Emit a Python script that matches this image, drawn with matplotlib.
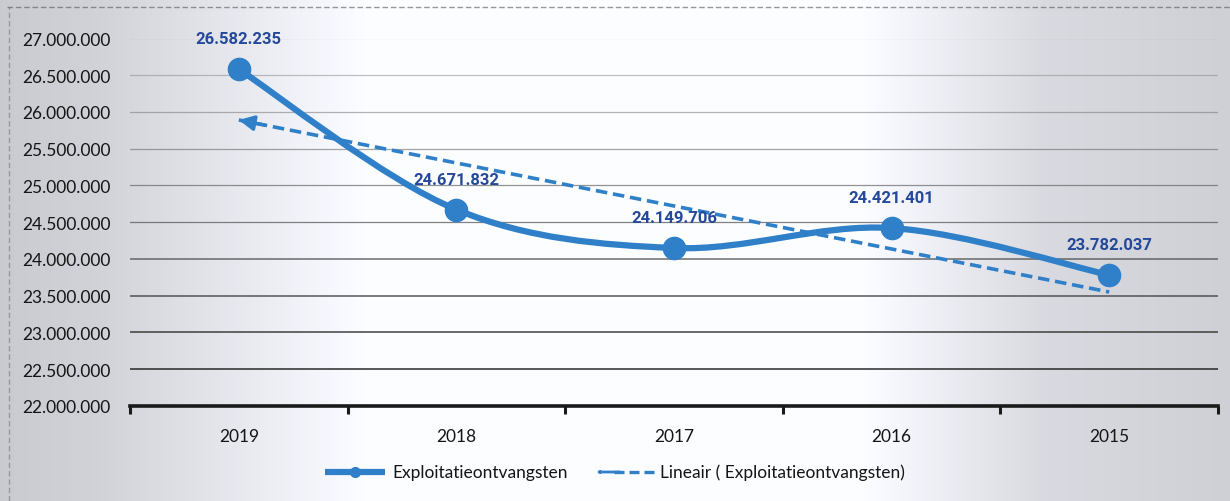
import numpy as np
import matplotlib
matplotlib.use("Agg")
import matplotlib.pyplot as plt
from matplotlib.lines import Line2D
from matplotlib.path import Path
from matplotlib.patches import PathPatch, FancyArrowPatch

plt.rcParams['font.family'] = ['Lato', 'DejaVu Sans']

years = ['2019', '2018', '2017', '2016', '2015']
values = [26582235, 24671832, 24149706, 24421401, 23782037]
value_labels = ['26.582.235', '24.671.832', '24.149.706', '24.421.401', '23.782.037']
yticks = [22000000, 22500000, 23000000, 23500000, 24000000, 24500000,
          25000000, 25500000, 26000000, 26500000, 27000000]
series_name = 'Exploitatieontvangsten'
trend_name = 'Lineair ( Exploitatieontvangsten)'

LINE = '#2F80C8'
LABEL = '#24499A'
TXT = '#151515'

W, H = 1230, 502
fig = plt.figure(figsize=(W / 100, H / 100), dpi=100)

# scanned-paper like background gradient
bg = fig.add_axes([0, 0, 1, 1], zorder=-10)
xs = np.linspace(0, 1, 400)
prof = np.interp(xs, [0, 0.08, 0.3, 0.7, 0.85, 1.0], [0.80, 0.83, 1.0, 1.0, 0.86, 0.82])
img = np.zeros((2, len(xs), 3))
img[..., 0] = prof[None, :] * 0.99
img[..., 1] = prof[None, :] * 0.995
img[..., 2] = np.minimum(prof[None, :] + 0.02, 1.0)
bg.imshow(img, aspect='auto', extent=[0, 1, 0, 1], interpolation='bilinear')
bg.set_xlim(0, 1); bg.set_ylim(0, 1)
bg.axis('off')
bg.plot([0.006, 1], [0.985, 0.985], ls=(0, (4, 2)), color='#555555', lw=1.0, alpha=0.6)
bg.plot([0.007, 0.007], [0.0, 0.985], ls=(0, (4, 2)), color='#666666', lw=1.0, alpha=0.5)

ax = fig.add_axes([130 / W, 1 - 407 / H, (1218 - 130) / W, (407 - 39.5) / H])
ax.patch.set_alpha(0)
x = np.arange(len(years))
ax.set_xlim(-0.5, len(years) - 0.5)
ax.set_ylim(yticks[0], yticks[-1])

# gridlines (darker toward the bottom, as in the scan)
for i, t in enumerate(yticks[1:]):
    frac = i / (len(yticks) - 2)
    col = (0.12 + 0.45 * frac,) * 3
    ax.axhline(t, color=col, lw=1.1 if frac < 0.4 else 0.9,
               alpha=0.95 - 0.5 * frac, zorder=1)

for s in ['top', 'right', 'left']:
    ax.spines[s].set_visible(False)
ax.spines['bottom'].set_linewidth(2.6)
ax.spines['bottom'].set_color('#1a1a1a')
ax.spines['bottom'].set_zorder(2)

ax.set_yticks(yticks)
ax.set_yticklabels([f"{t:,}".replace(',', '.') for t in yticks], fontsize=12.5, color=TXT)
ax.tick_params(axis='y', length=0, pad=14)
ax.set_xticks(x)
ax.set_xticklabels(years, fontsize=12.5, color=TXT)
ax.tick_params(axis='x', length=0, pad=16)
ax.set_xticks(np.arange(-0.5, len(years), 1.0), minor=True)
ax.tick_params(axis='x', which='minor', length=6, width=2.2, color='#1a1a1a', direction='out')

# Excel-style smoothed line (Catmull-Rom as cubic Bezier)
xv = x.astype(float)
yv = np.array(values, dtype=float)
px = np.concatenate([[xv[0]], xv, [xv[-1]]])
py = np.concatenate([[yv[0]], yv, [yv[-1]]])
verts = [(xv[0], yv[0])]
codes = [Path.MOVETO]
for i in range(len(xv) - 1):
    p0 = np.array([px[i], py[i]]); p1 = np.array([px[i + 1], py[i + 1]])
    p2 = np.array([px[i + 2], py[i + 2]]); p3 = np.array([px[i + 3], py[i + 3]])
    c1 = p1 + (p2 - p0) / 6.0
    c2 = p2 - (p3 - p1) / 6.0
    verts += [tuple(c1), tuple(c2), tuple(p2)]
    codes += [Path.CURVE4] * 3
ax.add_patch(PathPatch(Path(verts, codes), facecolor='none', edgecolor=LINE,
                       lw=4.5, capstyle='round', joinstyle='round', zorder=4))
ax.plot(xv, yv, 'o', color=LINE, ms=16, zorder=5)

# linear trendline
coef = np.polyfit(xv, yv, 1)
trend = np.polyval(coef, xv)
ax.plot(xv, trend, ls=(0, (3.2, 1.6)), color=LINE, lw=2.6, zorder=3)
ax.annotate('', xy=(xv[0], trend[0]), xytext=(xv[0] + 0.12, np.polyval(coef, xv[0] + 0.12)),
            arrowprops=dict(arrowstyle='-|>,head_length=0.9,head_width=0.45', color=LINE, lw=2.4,
                            shrinkA=0, shrinkB=0), zorder=3)

for xi, yi, lab in zip(xv, yv, value_labels):
    ax.annotate(lab, (xi, yi), xytext=(0, 22), textcoords='offset points',
                ha='center', va='center', fontsize=12, fontweight='bold', color=LABEL,
                family=['Roboto', 'DejaVu Sans'], zorder=6)

# legend (drawn manually to mimic Excel's symbols)
ly = 1 - 473 / H
fig.add_artist(Line2D([325 / W, 385 / W], [ly, ly], color=LINE, lw=4.5, solid_capstyle='butt'))
fig.add_artist(Line2D([355 / W], [ly], marker='o', color=LINE, ms=7))
fig.text(392 / W, ly, series_name, fontsize=12.5, color=TXT, va='center', ha='left')
fig.add_artist(Line2D([614 / W, 655 / W], [ly, ly], color=LINE, lw=2.4, ls=(0, (3, 1.5))))
fig.add_artist(FancyArrowPatch(
    (620 / W, ly), (596 / W, ly), transform=fig.transFigure,
    arrowstyle='-|>,head_length=0.9,head_width=0.45', color=LINE, lw=2.0,
    shrinkA=0, shrinkB=0))
fig.text(660 / W, ly, trend_name, fontsize=12.5, color=TXT, va='center', ha='left')

fig.savefig('out.png', dpi=100)
